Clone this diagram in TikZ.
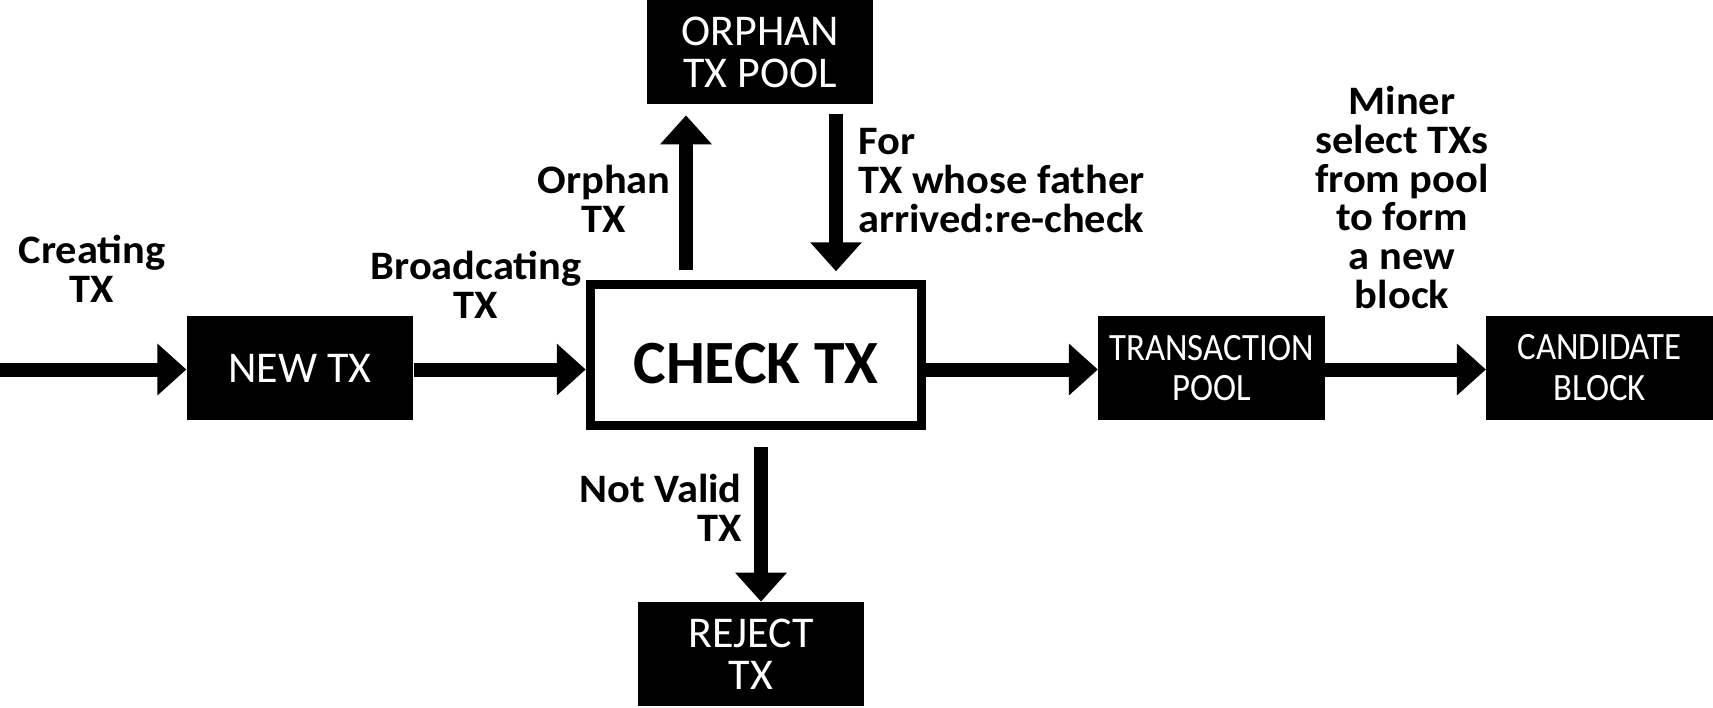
\documentclass[tikz,border=0pt]{standalone}
\usepackage{fontspec}
\setmainfont{Carlito}
\newfontfamily\lblfont[FakeStretch=1.05]{Carlito}
\newfontfamily\narrowfont[FakeStretch=0.9]{Carlito}
\usetikzlibrary{arrows.meta, calc}
\tikzset{
  blackbox/.style  = {rectangle, fill=black, text=white, minimum width=4.53cm, minimum height=2.08cm, inner sep=0pt, align=center, font=\fontsize{25}{24}\selectfont},
  narrowbox/.style = {blackbox, font=\narrowfont\fontsize{22}{23}\selectfont},
  checkbox/.style  = {rectangle, draw=black, line width=0.19cm, fill=white, minimum width=6.62cm, minimum height=2.82cm, inner sep=0pt, font=\bfseries\fontsize{35}{35}\selectfont, text height=1.15cm, text depth=0pt},
  lbl/.style       = {inner sep=0pt, align=center, font=\lblfont\bfseries\fontsize{23}{22}\selectfont},
  arrow/.style     = {line width=0.28cm, -{Triangle[length=0.58cm, width=1.0cm]}},
}

\begin{document}
\begin{tikzpicture}
\useasboundingbox (0,0) rectangle (34.26,-14.14);

% main row
\coordinate (start) at (0,-7.39);
\node[blackbox] (newtx) at (6.00,-7.36) {NEW TX};
\node[checkbox] (check) at (15.12,-7.10) {CHECK TX};
\node[narrowbox] (pool) at (24.23,-7.36) {TRANSACTION\\POOL};
\node[narrowbox] (cand) at (31.99,-7.35) {CANDIDATE\\BLOCK};

% side boxes
\node[blackbox] (orphan) at (15.20,-1.04) {ORPHAN\\TX POOL};
\node[blackbox] (reject) at (15.02,-13.08) {REJECT\\TX};

% labels
\node[lbl] (creating) at (1.84,-5.38) {Creating\\TX};
\node[lbl] (broadcast) at (9.52,-5.70) {Broadcating\\TX};
\node[lbl] (orphanlbl) at (12.08,-3.98) {Orphan\\TX};
\node[lbl, anchor=west, align=left] (recheck) at (17.16,-3.61) {For\\TX whose father\\arrived:re-check};
\node[lbl] (miner) at (28.04,-3.95) {Miner\\select TXs\\from pool\\to form\\a new\\block};
\node[lbl, anchor=east, align=right] (notvalid) at (14.84,-10.15) {Not Valid\\TX};

% arrows along the row
\draw[arrow] (start) -- (start -| newtx.west);
\draw[arrow] (start -| newtx.east) -- (start -| check.west);
\draw[arrow] (start -| check.east) -- (start -| pool.west);
\draw[arrow] (start -| pool.east) -- (start -| cand.west);

% arrows up and down
\draw[arrow, shorten <=0.19cm, shorten >=0.22cm] ([xshift=-1.40cm]check.north) -- ([xshift=-1.40cm]check.north |- orphan.south);
\draw[arrow, shorten <=0.20cm, shorten >=0.17cm] ([xshift=1.52cm]orphan.south) -- ([xshift=1.52cm]orphan.south |- check.north);
\draw[arrow, shorten <=0.33cm] ([xshift=0.10cm]check.south) -- ([xshift=0.10cm]check.south |- reject.north);

\end{tikzpicture}
\end{document}
